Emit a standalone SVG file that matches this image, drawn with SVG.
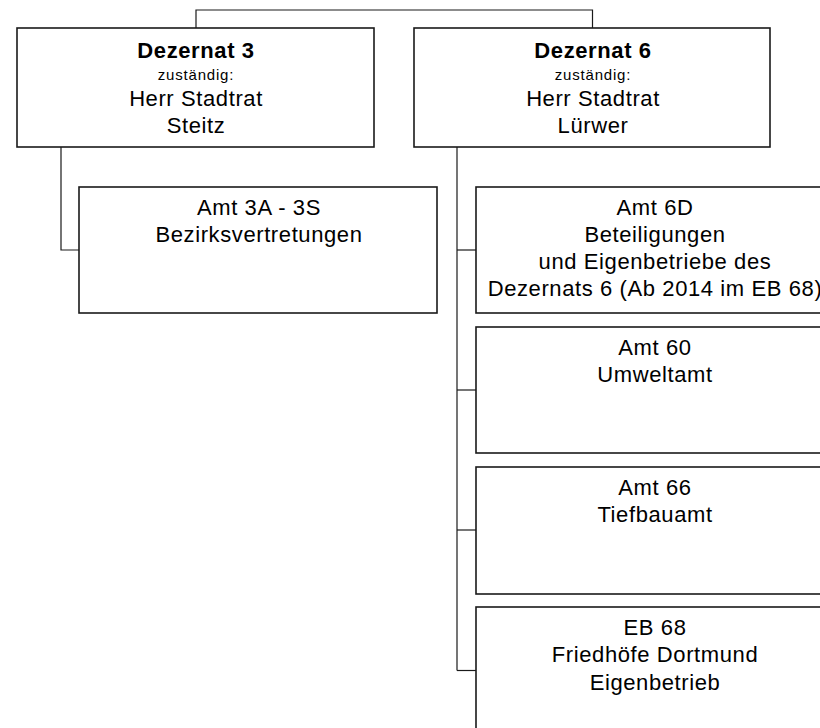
<svg xmlns="http://www.w3.org/2000/svg" width="820" height="728" viewBox="0 0 820 728">
<style>
.box{fill:#fff;stroke:#1a1a1a;stroke-width:1.6}
.con{fill:none;stroke:#1a1a1a;stroke-width:1.2}
text{font-family:"Liberation Sans",Arial,sans-serif;text-anchor:middle;fill:#000;letter-spacing:0.6px}
.t{font-size:22px}
.b{font-size:22px;font-weight:bold}
.s{font-size:15px;letter-spacing:0.8px}
</style>
<rect width="820" height="728" fill="#fff"/>
<g id="connectors">
<polyline class="con" points="196,28 196,10 592.5,10 592.5,28"/>
<polyline class="con" points="61,147 61,250 79,250"/>
<polyline class="con" points="457,147 457,670.5"/>
<line class="con" x1="457" y1="250" x2="476" y2="250"/>
<line class="con" x1="457" y1="390" x2="476" y2="390"/>
<line class="con" x1="457" y1="530" x2="476" y2="530"/>
<line class="con" x1="457" y1="670.5" x2="476" y2="670.5"/>
</g>
<g id="dez3">
<rect class="box" x="17" y="28" width="357" height="119"/>
<text class="b" x="196" y="58">Dezernat 3</text>
<text class="s" x="196" y="80">zuständig:</text>
<text class="t" x="196" y="106">Herr Stadtrat</text>
<text class="t" x="196" y="133">Steitz</text>
</g>
<g id="dez6">
<rect class="box" x="414" y="28" width="356" height="119"/>
<text class="b" x="593" y="58">Dezernat 6</text>
<text class="s" x="593" y="80">zuständig:</text>
<text class="t" x="593" y="106">Herr Stadtrat</text>
<text class="t" x="593" y="133">Lürwer</text>
</g>
<g id="amt3a">
<rect class="box" x="79" y="187" width="358" height="126"/>
<text class="t" x="259" y="215">Amt 3A - 3S</text>
<text class="t" x="259" y="242">Bezirksvertretungen</text>
</g>
<g id="amt6d">
<rect class="box" x="476" y="187" width="358" height="126"/>
<text class="t" x="655" y="215">Amt 6D</text>
<text class="t" x="655" y="242">Beteiligungen</text>
<text class="t" x="655" y="269">und Eigenbetriebe des</text>
<text class="t" x="655" y="296">Dezernats 6 (Ab 2014 im EB 68)</text>
</g>
<g id="amt60">
<rect class="box" x="476" y="327" width="358" height="126"/>
<text class="t" x="655" y="355">Amt 60</text>
<text class="t" x="655" y="382">Umweltamt</text>
</g>
<g id="amt66">
<rect class="box" x="476" y="467" width="358" height="127"/>
<text class="t" x="655" y="495">Amt 66</text>
<text class="t" x="655" y="522">Tiefbauamt</text>
</g>
<g id="eb68">
<rect class="box" x="476" y="607" width="358" height="127"/>
<text class="t" x="655" y="635">EB 68</text>
<text class="t" x="655" y="662">Friedhöfe Dortmund</text>
<text class="t" x="655" y="690">Eigenbetrieb</text>
</g>
</svg>
